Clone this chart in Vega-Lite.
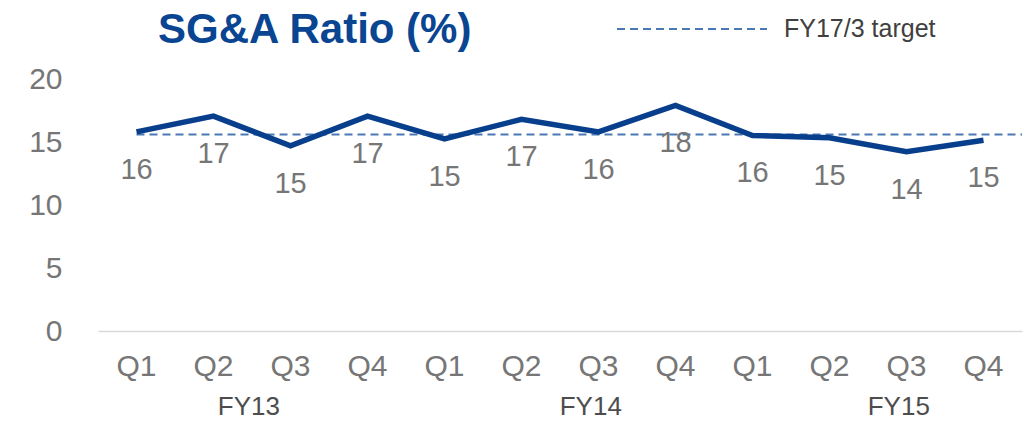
{
  "$schema": "https://vega.github.io/schema/vega-lite/v6.json",
  "width": 924,
  "height": 252,
  "autosize": {"type": "none"},
  "padding": {"left": 98, "top": 79, "right": 8, "bottom": 90},
  "background": "white",
  "config": {"font": "Liberation Sans", "view": {"stroke": null}},
  "title": {
    "text": "SG&A Ratio (%)",
    "anchor": "start",
    "frame": "group",
    "dx": 60,
    "offset": -99,
    "fontSize": 42,
    "fontWeight": "bold",
    "color": "#0a4592",
    "font": "Liberation Sans"
  },
  "datasets": {
    "ratio": [
      {"period": "FY13 Q1", "value": 15.8},
      {"period": "FY13 Q2", "value": 17.05},
      {"period": "FY13 Q3", "value": 14.7},
      {"period": "FY13 Q4", "value": 17.05},
      {"period": "FY14 Q1", "value": 15.25},
      {"period": "FY14 Q2", "value": 16.8},
      {"period": "FY14 Q3", "value": 15.8},
      {"period": "FY14 Q4", "value": 17.9},
      {"period": "FY15 Q1", "value": 15.52},
      {"period": "FY15 Q2", "value": 15.33},
      {"period": "FY15 Q3", "value": 14.22},
      {"period": "FY15 Q4", "value": 15.14}
    ],
    "target": [{"series": "FY17/3 target", "value": 15.6, "from": "FY13 Q1", "to": "FY15 Q4"}],
    "fyA": [{"fy": "FY13", "at": "FY13 Q2"}],
    "fyB": [{"fy": "FY14", "at": "FY14 Q3"}, {"fy": "FY15", "at": "FY15 Q3"}]
  },
  "encoding": {
    "x": {
      "field": "period",
      "type": "nominal",
      "sort": null,
      "scale": {
        "type": "band",
        "paddingInner": 0,
        "paddingOuter": 0,
        "domain": ["FY13 Q1", "FY13 Q2", "FY13 Q3", "FY13 Q4", "FY14 Q1", "FY14 Q2", "FY14 Q3", "FY14 Q4", "FY15 Q1", "FY15 Q2", "FY15 Q3", "FY15 Q4"]
      },
      "axis": {
        "title": null,
        "labelExpr": "split(datum.value, ' ')[1]",
        "labelAngle": 0,
        "labelFontSize": 30,
        "labelColor": "#767676",
        "labelPadding": 20,
        "ticks": false,
        "domainColor": "#d9d9d9",
        "domainWidth": 1.5,
        "grid": false
      }
    }
  },
  "layer": [
    {
      "data": {"name": "target"},
      "mark": {"type": "rule", "strokeDash": [8, 5], "strokeWidth": 2},
      "encoding": {
        "x": {"field": "from", "type": "nominal", "bandPosition": 0.5},
        "x2": {"field": "to", "bandPosition": 1},
        "y": {"field": "value", "type": "quantitative"},
        "color": {
          "field": "series",
          "type": "nominal",
          "scale": {"range": ["#4a78b5"]},
          "legend": {
            "title": null,
            "orient": "none",
            "legendX": 518,
            "legendY": -126,
            "padding": 0,
            "symbolType": "stroke",
            "symbolSize": 22500,
            "symbolStrokeWidth": 2,
            "symbolDash": [8, 5],
            "labelFontSize": 25,
            "labelColor": "#404040",
            "labelOffset": 16,
            "labelFont": "Liberation Sans"
          }
        }
      }
    },
    {
      "data": {"name": "ratio"},
      "mark": {"type": "line", "color": "#083f8c", "strokeWidth": 5.5},
      "encoding": {
        "x": {"field": "period", "type": "nominal", "sort": null, "bandPosition": 0.5},
        "y": {
          "field": "value",
          "type": "quantitative",
          "scale": {"domain": [0, 20], "nice": false, "zero": true},
          "axis": {
            "title": null,
            "values": [0, 5, 10, 15, 20],
            "labelFontSize": 30,
            "labelColor": "#767676",
            "labelPadding": 36,
            "ticks": false,
            "domain": false,
            "grid": false
          }
        }
      }
    },
    {
      "data": {"name": "ratio"},
      "mark": {"type": "text", "fontSize": 29, "color": "#767676", "dy": 38, "baseline": "middle", "align": "center"},
      "encoding": {
        "x": {"field": "period", "type": "nominal", "sort": null, "bandPosition": 0.5},
        "y": {"field": "value", "type": "quantitative"},
        "text": {"field": "value", "type": "quantitative", "format": ".0f"}
      }
    },
    {
      "data": {"name": "fyA"},
      "mark": {"type": "text", "fontSize": 26, "color": "#4d4d4d", "dy": 76, "baseline": "middle", "align": "center"},
      "encoding": {
        "x": {"field": "at", "type": "nominal", "bandPosition": 0.96},
        "y": {"datum": 0},
        "text": {"field": "fy"}
      }
    },
    {
      "data": {"name": "fyB"},
      "mark": {"type": "text", "fontSize": 26, "color": "#4d4d4d", "dy": 76, "baseline": "middle", "align": "center"},
      "encoding": {
        "x": {"field": "at", "type": "nominal", "bandPosition": 0.4},
        "y": {"datum": 0},
        "text": {"field": "fy"}
      }
    }
  ]
}
